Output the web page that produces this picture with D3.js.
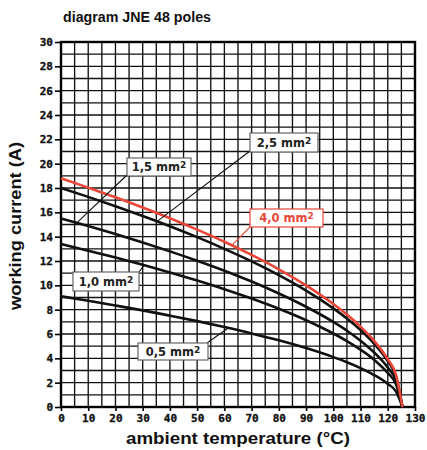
<!DOCTYPE html>
<html>
<head>
<meta charset="utf-8">
<script src="https://cdn.jsdelivr.net/npm/d3@7"></script>
<style>
  html, body { margin: 0; padding: 0; background: #fff; }
  svg { display: block; }
</style>
</head>
<body>
<svg id="chart" width="427" height="450"></svg>
<script>
// ---- data ----
const temperatures = [0, 10, 20, 30, 40, 50, 60, 70, 80, 90, 100, 105, 110, 115, 120, 123, 125.4];
const current_4_0 = [18.8, 18.03, 17.24, 16.40, 15.52, 14.58, 13.58, 12.50, 11.32, 10.00, 8.47, 7.60, 6.61, 5.44, 3.93, 2.65, 0];
const current_2_5 = [18.0, 17.27, 16.50, 15.70, 14.86, 13.96, 13.00, 11.97, 10.84, 9.57, 8.11, 7.28, 6.33, 5.21, 3.77, 2.54, 0];
const current_1_5 = [15.5, 14.87, 14.21, 13.52, 12.79, 12.02, 11.20, 10.31, 9.33, 8.24, 6.99, 6.27, 5.45, 4.48, 3.24, 2.19, 0];
const current_1_0 = [13.4, 12.85, 12.29, 11.69, 11.06, 10.39, 9.68, 8.91, 8.07, 7.13, 6.04, 5.42, 4.71, 3.88, 2.80, 1.89, 0];
const current_0_5 = [9.1, 8.73, 8.34, 7.94, 7.51, 7.06, 6.57, 6.05, 5.48, 4.84, 4.10, 3.68, 3.20, 2.63, 1.90, 1.28, 0];
const seriesNames = ["0,5 mm", "1,0 mm", "1,5 mm", "2,5 mm", "4,0 mm"];
const xTicks = [0, 10, 20, 30, 40, 50, 60, 70, 80, 90, 100, 110, 120, 130];
const yTicks = [0, 2, 4, 6, 8, 10, 12, 14, 16, 18, 20, 22, 24, 26, 28, 30];
const titleText = "diagram JNE 48 poles";
const xTitle = "ambient temperature (°C)";
const yTitle = "working current (A)";

// ---- layout ----
const svg = d3.select("#chart");
const L = 61, R = 415, T = 42, B = 407;
const x = d3.scaleLinear().domain([0, 130]).range([L, R]);
const y = d3.scaleLinear().domain([0, 30]).range([B, T]);
const RED = "#e8473a";
const monoFont = "'DejaVu Sans Mono', monospace";
const sansFont = "'Liberation Sans', Arial, sans-serif";
const boxFont = "'DejaVu Sans', sans-serif";

// grid
const grid = svg.append("g");
grid.selectAll("line.v").data(d3.range(0, 131, 5)).join("line")
  .attr("x1", d => x(d)).attr("x2", d => x(d))
  .attr("y1", T).attr("y2", B)
  .attr("stroke", "#111").attr("stroke-width", 1.35);
grid.selectAll("line.h").data(d3.range(0, 31, 1)).join("line")
  .attr("y1", d => y(d)).attr("y2", d => y(d))
  .attr("x1", L).attr("x2", R)
  .attr("stroke", "#111").attr("stroke-width", 1.35);
// frame
svg.append("rect").attr("x", L).attr("y", T).attr("width", R - L).attr("height", B - T)
  .attr("fill", "none").attr("stroke", "#000").attr("stroke-width", 2.4);

// axes
const yAxis = d3.axisLeft(y).tickValues(yTicks).tickSize(6).tickPadding(2)
  .tickFormat(d3.format("d"));
const gy = svg.append("g").attr("transform", `translate(${L},0)`).call(yAxis);
const xAxis = d3.axisBottom(x).tickValues(xTicks).tickSize(4).tickPadding(3)
  .tickFormat(d3.format("d"));
const gx = svg.append("g").attr("transform", `translate(0,${B})`).call(xAxis);
[gx, gy].forEach(g => {
  g.attr("font-family", null).attr("font-size", null);
  g.select(".domain").remove();
  g.selectAll(".tick line").attr("stroke", "#000").attr("stroke-width", 1.6);
  g.selectAll(".tick text").attr("fill", "#111")
    .attr("stroke", "#111").attr("stroke-width", 0.35)
    .style("font-family", monoFont).style("font-weight", "bold").style("font-size", "11px");
});

// curves
const line = d3.line().x((d, i) => x(temperatures[i])).y(d => y(d)).curve(d3.curveMonotoneX);
const seriesData = [current_0_5, current_1_0, current_1_5, current_2_5, current_4_0];
const seriesColors = ["#111", "#111", "#111", "#111", RED];
svg.append("g").selectAll("path").data(seriesData).join("path")
  .attr("d", d => line(d))
  .attr("fill", "none")
  .attr("stroke", (d, i) => seriesColors[i])
  .attr("stroke-width", 2.6);

// annotations: box (pixel layout) + leader to a point on the curve at temperature t
function valueAt(series, t) {
  for (let i = 0; i < temperatures.length - 1; i++) {
    const a = temperatures[i], b = temperatures[i + 1];
    if (t >= a && t <= b) return series[i] + (series[i + 1] - series[i]) * (t - a) / (b - a);
  }
  return series[series.length - 1];
}
const annotations = [
  { s: 2, bx: 127, by: 158, bw: 64, bh: 18, lx: 127, ly: 175, t: 5.8, color: "#222", border: "#666" },
  { s: 3, bx: 250, by: 133, bw: 68, bh: 19, lx: 250, ly: 151, t: 35.3, color: "#222", border: "#666" },
  { s: 4, bx: 250, by: 209, bw: 73, bh: 18, lx: 250, ly: 227, t: 62.7, color: RED, border: RED },
  { s: 1, bx: 73, by: 272, bw: 66, bh: 19, lx: 139, ly: 272, t: 30.5, color: "#222", border: "#666" },
  { s: 0, bx: 138, by: 343, bw: 70, bh: 17, lx: 207, ly: 343, t: 61.4, color: "#222", border: "#666" }
];
const ann = svg.append("g");
annotations.forEach(a => {
  const ser = seriesData[a.s];
  ann.append("line")
    .attr("x1", a.lx).attr("y1", a.ly)
    .attr("x2", x(a.t)).attr("y2", y(valueAt(ser, a.t)))
    .attr("stroke", a.s === 4 ? RED : "#111").attr("stroke-width", 1.1);
  ann.append("rect").attr("x", a.bx).attr("y", a.by).attr("width", a.bw).attr("height", a.bh)
    .attr("fill", "#fff").attr("stroke", a.border).attr("stroke-width", 1.2);
  const txt = ann.append("text")
    .attr("x", a.bx + a.bw / 2).attr("y", a.by + a.bh / 2 + 4.3)
    .attr("text-anchor", "middle").attr("fill", a.color)
    .style("font-family", boxFont).style("font-weight", "bold").style("font-size", "11.5px");
  txt.append("tspan").text(seriesNames[a.s]);
  txt.append("tspan").attr("dy", -3).style("font-size", "9px").text("2");
});

// titles
svg.append("text").attr("x", 63).attr("y", 22)
  .attr("textLength", 148).attr("lengthAdjust", "spacingAndGlyphs")
  .style("font-family", sansFont).style("font-weight", "bold").style("font-size", "14px")
  .attr("fill", "#111").text(titleText);
svg.append("text").attr("x", 238).attr("y", 444).attr("text-anchor", "middle")
  .attr("textLength", 224).attr("lengthAdjust", "spacingAndGlyphs")
  .style("font-family", sansFont).style("font-weight", "bold").style("font-size", "16px")
  .attr("fill", "#111").text(xTitle);
svg.append("text").attr("transform", "translate(21,226) rotate(-90)").attr("text-anchor", "middle")
  .attr("textLength", 168).attr("lengthAdjust", "spacingAndGlyphs")
  .style("font-family", sansFont).style("font-weight", "bold").style("font-size", "16px")
  .attr("fill", "#111").text(yTitle);
</script>
</body>
</html>
